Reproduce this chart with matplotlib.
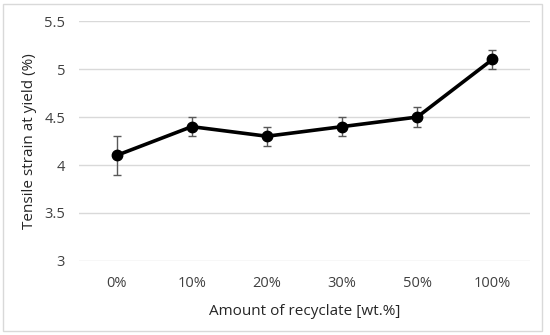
import matplotlib

matplotlib.use("Agg")
import matplotlib.pyplot as plt
from matplotlib.patches import Rectangle

categories = ["0%", "10%", "20%", "30%", "50%", "100%"]
strain = [4.1, 4.4, 4.3, 4.4, 4.5, 5.1]
strain_err = [0.2, 0.1, 0.1, 0.1, 0.1, 0.1]
y_ticks = [3, 3.5, 4, 4.5, 5, 5.5]
y_tick_labels = ["3", "3.5", "4", "4.5", "5", "5.5"]

plt.rcParams["font.family"] = ["Open Sans", "DejaVu Sans"]

fig = plt.figure(figsize=(5.5, 3.35), dpi=100)
ax = fig.add_axes([0.1436, 0.221, 0.82, 0.716])

x = list(range(len(categories)))
ax.errorbar(x, strain, yerr=strain_err, fmt="none", ecolor="#595959",
            elinewidth=1.0, capsize=3, capthick=1.0, zorder=2)
ax.plot(x, strain, color="black", linewidth=2.6, marker="o", markersize=7.5, zorder=3)

ax.set_xlim(-0.5, len(categories) - 0.5)
ax.set_ylim(3, 5.5)
ax.set_xticks(x, categories)
ax.set_yticks(y_ticks, y_tick_labels)
ax.tick_params(length=0, labelsize=10.5, colors="#404040", pad=11)
ax.tick_params(axis="y", pad=10)
ax.grid(axis="y", color="#d9d9d9", linewidth=1.0)
ax.set_axisbelow(True)
for s in ax.spines.values():
    s.set_visible(False)

ax.set_xlabel("Amount of recyclate [wt.%]", fontsize=11, color="#262626", labelpad=9)
ax.set_ylabel("Tensile strain at yield (%)", fontsize=11, color="#262626", labelpad=5)

fig.patches.append(Rectangle((3 / 550, 4 / 335), 539 / 550, 327 / 335, transform=fig.transFigure,
                             fill=False, edgecolor="#d9d9d9", linewidth=1.0))

fig.savefig("out.png", dpi=100)
